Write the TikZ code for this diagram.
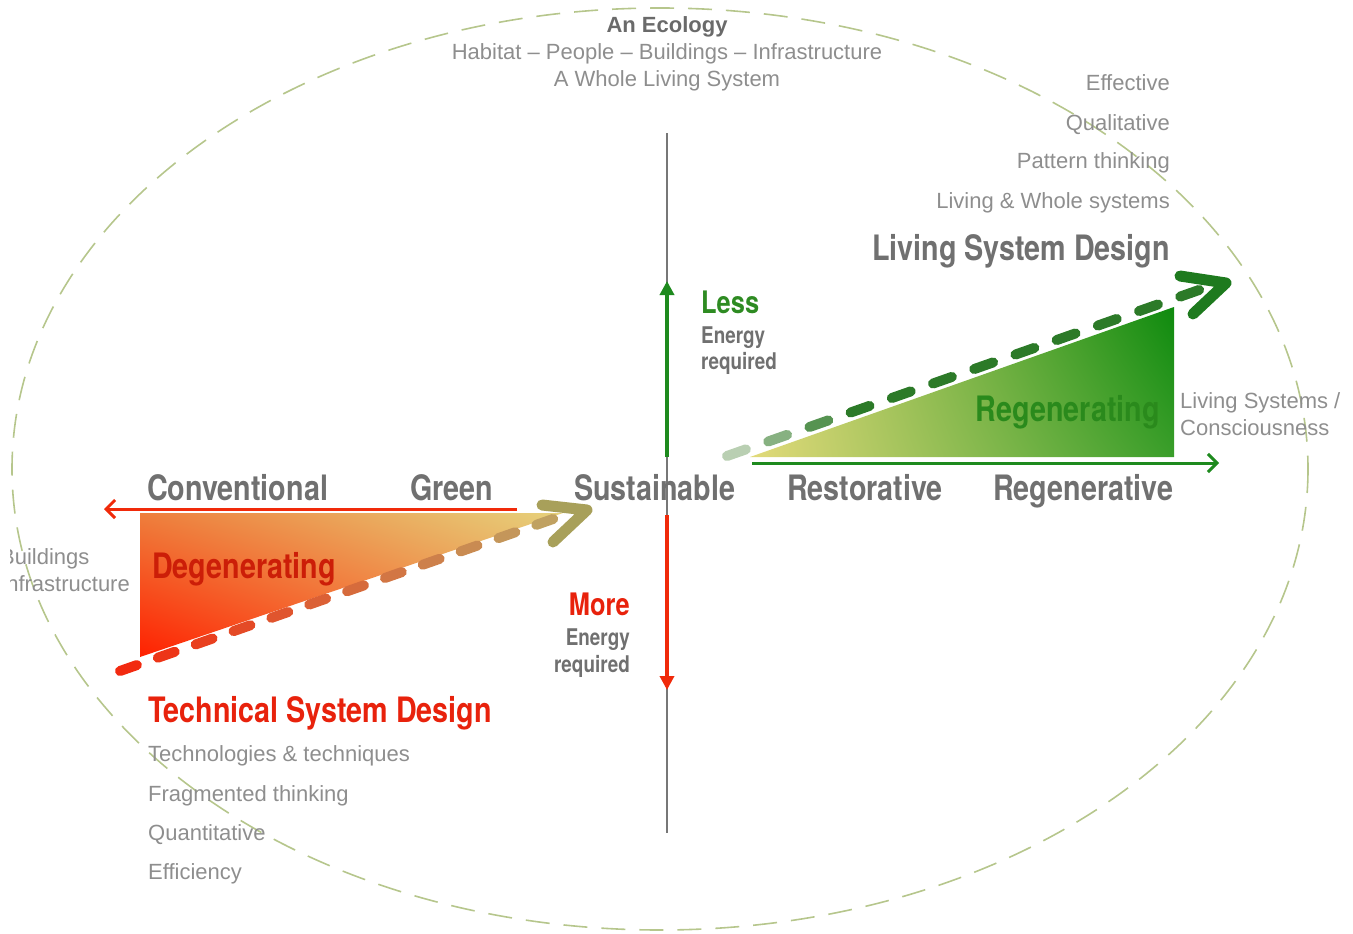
\documentclass[tikz,border=0pt]{standalone}
\usepackage{fontspec}
\setmainfont{Liberation Sans}
\newfontfamily\condf[FakeStretch=0.82]{TeX Gyre Heros}
\usetikzlibrary{arrows.meta,calc,shadings}
\definecolor{txtlight}{HTML}{8E8E8E}
\definecolor{txtbold}{HTML}{707070}
\definecolor{ecodark}{HTML}{6A6A6A}
\definecolor{redhead}{HTML}{E8220C}
\definecolor{reddeg}{HTML}{CC1E08}
\definecolor{greenhead}{HTML}{2E8B22}
\definecolor{greenreg}{HTML}{2A8A1C}
\definecolor{ellcol}{HTML}{B6C68C}
\definecolor{axisgray}{HTML}{777777}
\definecolor{arrgreen}{HTML}{1E8A1E}
\definecolor{arrred}{HTML}{F02A0A}
\definecolor{redend}{HTML}{F22A10}
\definecolor{tanend}{HTML}{BFA262}
\definecolor{oliveArrow}{HTML}{A8A05A}
\definecolor{paleGreen}{HTML}{D2DECA}
\definecolor{darkGreen}{HTML}{2C7A28}
\definecolor{chevGreen}{HTML}{1E7A1E}
\definecolor{triOrange}{HTML}{EE7E3C}
\definecolor{triYellow}{HTML}{E6D27C}
\definecolor{triRed}{HTML}{FF2000}
\definecolor{triMid}{HTML}{F0904A}
\definecolor{gTriYellow}{HTML}{E2DA7A}
\definecolor{gTriGreen}{HTML}{0E8A0E}
\definecolor{gTriGreenLow}{HTML}{3A9E2A}
\tikzset{
  light/.style={font=\fontsize{22}{26}\selectfont, text=txtlight, inner sep=0pt},
  ecotitle/.style={font=\bfseries\fontsize{22}{26}\selectfont, text=ecodark, inner sep=0pt},
  heavy/.style={font=\condf\bfseries\fontsize{35}{40}\selectfont, text=txtbold, inner sep=0pt},
  smallheavy/.style={font=\condf\bfseries\fontsize{23}{27}\selectfont, text=txtbold, inner sep=0pt},
  midheavy/.style={font=\condf\bfseries\fontsize{31}{35}\selectfont, inner sep=0pt},
  dashseg/.style={line width=10pt, line cap=round},
  chev/.style={line width=11pt, line cap=round, line join=round},
  ellipsedash/.style={draw=ellcol, line width=1.6pt, dash pattern=on 24pt off 14pt},
}
\begin{document}
\begin{tikzpicture}[x=1pt,y=-1pt]
\useasboundingbox (0,0) rectangle (1353,934);
% outer ellipse
\coordinate (ec) at (660,469);
\draw[ellipsedash] (ec) ellipse [x radius=648, y radius=461];

% vertical axis
\coordinate (axT) at (667,133);
\coordinate (axB) at (667,833);
\draw[axisgray, line width=1.2pt] (axT) -- (axB);
\coordinate (upS) at (667,457);
\coordinate (upE) at (667,281);
\draw[arrgreen, line width=4pt, -{Triangle[length=14pt,width=14pt]}] (upS) -- (upE);
\coordinate (dnS) at (667,515);
\coordinate (dnE) at (667,690);
\draw[arrred, line width=4pt, -{Triangle[length=14pt,width=14pt]}] (dnS) -- (dnE);

% left triangle
\coordinate (t1) at (140,513);
\coordinate (t2) at (563,513);
\coordinate (t3) at (140,657);
\shade[upper left=triOrange, upper right=triYellow, lower left=triRed, lower right=triMid] (t1) -- (t2) -- (t3) -- cycle;
% red horizontal arrow
\coordinate (rhS) at (517,509);
\coordinate (rhE) at (104,509);
\draw[arrred, line width=3pt, -{Straight Barb[length=9pt,width=18pt,line width=3pt]}] (rhS) -- (rhE);
% left dashed line
\coordinate (lA) at (120,671);
\coordinate (lB) at (553,519);
\foreach \i in {0,...,11}{
  \pgfmathsetmacro\ta{\i*0.0874}
  \pgfmathsetmacro\tb{\ta+0.039}
  \pgfmathtruncatemacro\pc{100-\i*9}
  \draw[dashseg, draw=redend!\pc!tanend] ($(lA)!\ta!(lB)$) -- ($(lA)!\tb!(lB)$);
}
\coordinate (lc1) at (542,505);
\coordinate (lc2) at (587,510);
\coordinate (lc3) at (553,542);
\draw[chev, draw=oliveArrow] (lc1) -- (lc2) -- (lc3);

% right triangle
\coordinate (g1) at (750,457);
\coordinate (g2) at (1174,457);
\coordinate (g3) at (1174,307);
\shade[upper left=gTriYellow, lower left=gTriYellow, upper right=gTriGreen, lower right=gTriGreenLow] (g1) -- (g2) -- (g3) -- cycle;
% green horizontal arrow
\coordinate (ghS) at (752,463);
\coordinate (ghE) at (1219,463);
\draw[arrgreen, line width=3pt, -{Straight Barb[length=9pt,width=18pt,line width=3pt]}] (ghS) -- (ghE);
% green dashed line
\coordinate (gA) at (727,456);
\coordinate (gB) at (1199,290);
\foreach \i in {0,...,11}{
  \pgfmathsetmacro\ta{\i*0.0873}
  \pgfmathsetmacro\tb{\ta+0.04}
  \pgfmathtruncatemacro\pc{min(100,15+\i*30)}
  \draw[dashseg, draw=darkGreen!\pc!paleGreen] ($(gA)!\ta!(gB)$) -- ($(gA)!\tb!(gB)$);
}
\coordinate (gc1) at (1180,276);
\coordinate (gc2) at (1226,283);
\coordinate (gc3) at (1193,314);
\draw[chev, draw=chevGreen] (gc1) -- (gc2) -- (gc3);

% top texts
\node[ecotitle, anchor=base] (eco) at (667,33) {An Ecology};
\node[light, anchor=base] (hab) at (667,60) {Habitat – People – Buildings – Infrastructure};
\node[light, anchor=base] (whole) at (667,87) {A Whole Living System};

% right list
\node[light, anchor=base east] (eff) at (1170,91) {Effective};
\node[light, anchor=base east] (qual) at (1170,130) {Qualitative};
\node[light, anchor=base east] (patt) at (1170,168) {Pattern thinking};
\node[light, anchor=base east] (livw) at (1170,208) {Living \& Whole systems};
\node[heavy, anchor=base east] (lsd) at (1170,260) {Living System Design};

% less / more
\node[midheavy, text=greenhead, anchor=base west] (less) at (701,313) {Less};
\node[smallheavy, anchor=base west] (lessE) at (701,343) {Energy};
\node[smallheavy, anchor=base west] (lessR) at (701,369) {required};
\node[midheavy, text=redhead, anchor=base east] (more) at (630,615) {More};
\node[smallheavy, anchor=base east] (moreE) at (630,645) {Energy};
\node[smallheavy, anchor=base east] (moreR) at (630,672) {required};

% main row
\node[heavy, anchor=base west] (conv) at (147,500) {Conventional};
\node[heavy, anchor=base west] (green) at (410,500) {Green};
\node[heavy, anchor=base west] (sust) at (574,500) {Sustainable};
\node[heavy, anchor=base west] (rest) at (787,500) {Restorative};
\node[heavy, anchor=base west] (regv) at (993,500) {Regenerative};

\node[heavy, text=reddeg, anchor=base west] (degen) at (152,578) {Degenerating};
\node[heavy, text=greenreg, anchor=base east] (regen) at (1160,421) {Regenerating};

% technical
\node[heavy, text=redhead, anchor=base west] (tsd) at (148,722) {Technical System Design};
\node[light, anchor=base west] (tech) at (148,761) {Technologies \& techniques};
\node[light, anchor=base west] (frag) at (148,801) {Fragmented thinking};
\node[light, anchor=base west] (quant) at (148,840) {Quantitative};
\node[light, anchor=base west] (effi) at (148,879) {Efficiency};

% side labels
\node[light, anchor=base west] (lsys) at (1180,408) {Living Systems /};
\node[light, anchor=base west] (cons) at (1180,435) {Consciousness};
\begin{scope}
\clip (10,530) rectangle (200,600);
\node[light, anchor=base west] (bld) at (0,564) {Buildings};
\node[light, anchor=base west] (infra) at (0,591) {Infrastructure};
\end{scope}
\end{tikzpicture}
\end{document}
